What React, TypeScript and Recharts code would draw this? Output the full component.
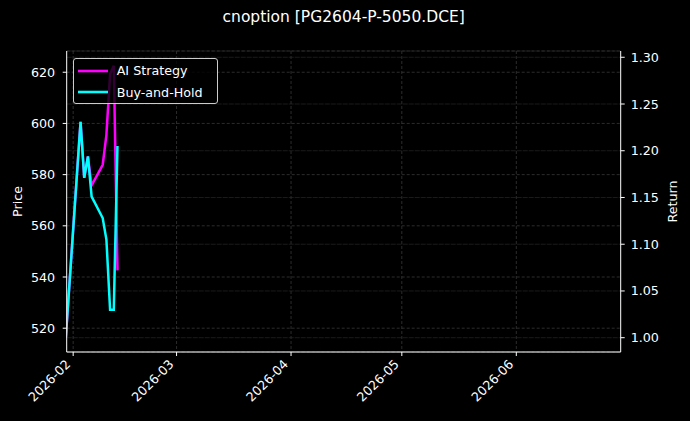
import React from 'react'
import {
  LineChart,
  Line,
  XAxis,
  YAxis,
  CartesianGrid,
  Legend,
} from 'recharts'

const DAY = 86400000
const d = (s: string) => Date.parse(s + 'T00:00:00Z')

// trading days shown in the picture
const dates = [
  '2026-01-30', '2026-02-03', '2026-02-04', '2026-02-05', '2026-02-06',
  '2026-02-09', '2026-02-10', '2026-02-11', '2026-02-12', '2026-02-13',
]
const aiStrategy = [1.0, 1.231, 1.171, 1.194, 1.163, 1.185, 1.217, 1.282, 1.291, 1.072]
const buyAndHold = [1.0, 1.231, 1.171, 1.194, 1.151, 1.128, 1.105, 1.03, 1.03, 1.205]

const monthTicks = ['2026-02-01', '2026-03-01', '2026-04-01', '2026-05-01', '2026-06-01']
const priceTicks = [520, 540, 560, 580, 600, 620]
const returnTicks = [1.0, 1.05, 1.1, 1.15, 1.2, 1.25, 1.3]

const xDomain = [d('2026-01-30') + 0.25 * DAY, d('2026-06-29') + 0.27 * DAY]
const priceDomain = [510.7, 628.3]
const returnDomain = [0.9847, 1.3067]

const data = dates.map((s, i) => ({ t: d(s), ai: aiStrategy[i], bh: buyAndHold[i] }))

const FONT = '"DejaVu Sans", sans-serif'
const TICK = { fill: '#ffffff', fontSize: 12.7, fontFamily: FONT }

const series = [
  { key: 'ai', name: 'AI Strategy', color: '#ff00ff' },
  { key: 'bh', name: 'Buy-and-Hold', color: '#00ffff' },
]

function DateTick(props: any) {
  const { x, y, payload } = props
  const dt = new Date(payload.value)
  const label = `${dt.getUTCFullYear()}-${String(dt.getUTCMonth() + 1).padStart(2, '0')}`
  const px = x - 2
  const py = y + 7
  return (
    <text x={px} y={py} transform={`rotate(-45, ${px}, ${py})`} textAnchor="end" {...TICK}>
      {label}
    </text>
  )
}

function LegendBox() {
  return (
    <div
      style={{
        width: 145,
        height: 46,
        boxSizing: 'border-box',
        background: 'rgba(0,0,0,0.8)',
        border: '1px solid #cccccc',
        borderRadius: 3,
        fontFamily: FONT,
        fontSize: 12.7,
        color: '#fff',
        padding: '1px 0 0 4px',
        textAlign: 'left',
      }}
    >
      {series.map((s) => (
        <div key={s.key} style={{ display: 'flex', alignItems: 'center', height: 21.4 }}>
          <svg width={30} height={6} style={{ marginRight: 9 }}>
            <line x1={0} y1={3} x2={30} y2={3} stroke={s.color} strokeWidth={2.6} />
          </svg>
          <span>{s.name}</span>
        </div>
      ))}
    </div>
  )
}

export default function App() {
  return (
    <div style={{ position: 'fixed', left: 0, top: 0, width: 690, height: 421, background: '#000' }}>
      <div
        style={{
          position: 'absolute',
          left: 66.7,
          width: 554,
          top: 8,
          textAlign: 'center',
          color: '#fff',
          fontFamily: FONT,
          fontSize: 15.5,
        }}
      >
        cnoption [PG2604-P-5050.DCE]
      </div>
      <LineChart width={690} height={421} data={data} margin={{ top: 51, right: 0, bottom: 0, left: 0 }}>
        <CartesianGrid yAxisId="left" stroke="#4a4a4a" strokeDasharray="3 2" strokeWidth={0.6} verticalValues={monthTicks.map(d)} />
        <CartesianGrid yAxisId="right" stroke="#2e2e2e" strokeDasharray="5 1" strokeWidth={0.6} vertical={false} />
        <XAxis
          dataKey="t"
          type="number"
          scale="time"
          domain={xDomain}
          allowDataOverflow
          ticks={monthTicks.map(d)}
          tick={<DateTick />}
          height={69}
          stroke="#fff"
          tickSize={4}
          tickMargin={2}
          interval={0}
        />
        <XAxis xAxisId="top" dataKey="t" type="number" orientation="top" domain={xDomain} allowDataOverflow tick={false} tickLine={false} height={0} stroke="#fff" />
        <YAxis
          yAxisId="left"
          domain={priceDomain}
          allowDataOverflow
          ticks={priceTicks}
          width={66.7}
          stroke="#fff"
          tick={TICK}
          tickSize={4}
          tickMargin={7.5}
          interval={0}
          label={({ viewBox }: any) => (
            <text
              x={viewBox.x + 17}
              y={viewBox.y + viewBox.height / 2}
              transform={`rotate(-90, ${viewBox.x + 17}, ${viewBox.y + viewBox.height / 2})`}
              textAnchor="middle"
              dominantBaseline="central"
              {...TICK}
            >
              Price
            </text>
          )}
        />
        <YAxis
          yAxisId="right"
          orientation="right"
          domain={returnDomain}
          allowDataOverflow
          ticks={returnTicks}
          tickFormatter={(v: number) => v.toFixed(2)}
          width={69.3}
          stroke="#fff"
          tick={TICK}
          tickSize={4}
          tickMargin={6}
          interval={0}
          label={({ viewBox }: any) => (
            <text
              x={viewBox.x + 52}
              y={viewBox.y + viewBox.height / 2}
              transform={`rotate(-90, ${viewBox.x + 52}, ${viewBox.y + viewBox.height / 2})`}
              textAnchor="middle"
              dominantBaseline="central"
              {...TICK}
            >
              Return
            </text>
          )}
        />
        {series.map((s) => (
          <Line
            key={s.key}
            yAxisId="right"
            type="linear"
            dataKey={s.key}
            name={s.name}
            stroke={s.color}
            strokeWidth={2.5}
            dot={false}
            isAnimationActive={false}
          />
        ))}
        <Legend
          layout="vertical"
          verticalAlign="middle"
          align="center"
          content={<LegendBox />}
          wrapperStyle={{ position: 'absolute', left: 72.7, top: 58.3, width: 145, height: 46 }}
        />
      </LineChart>
    </div>
  )
}
